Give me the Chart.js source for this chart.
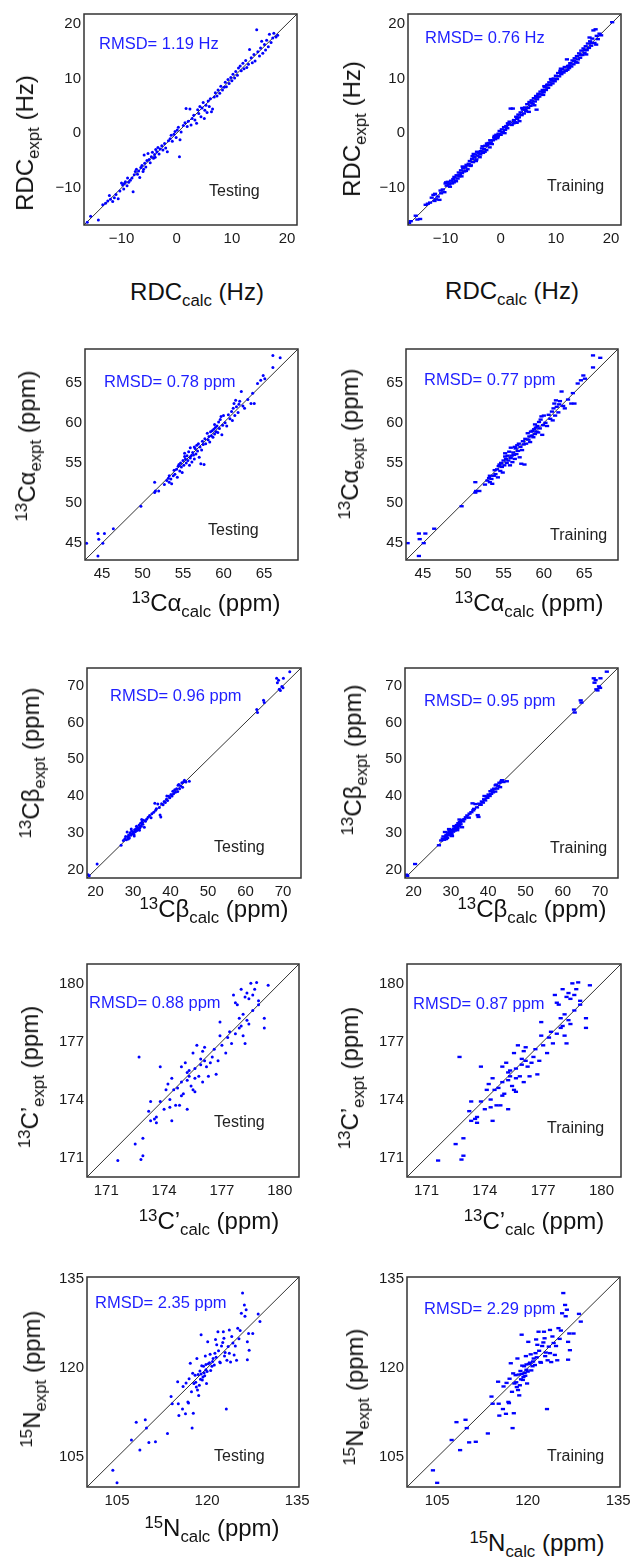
<!DOCTYPE html>
<html lang="en">
<head>
<meta charset="UTF-8">
<title>Calc vs expt scatter panels</title>
<script src="https://cdn.jsdelivr.net/npm/chart.js"></script>
<style>
  body { margin: 0; background: #fff; }
  #page { position: relative; width: 633px; height: 1562px; overflow: hidden; background: #fff;
          font-family: Arial, "Liberation Sans", Helvetica, sans-serif; }
  #page canvas { position: absolute; }
  .ttl { position: absolute; font-size: 24px; line-height: 24px; color: #111; white-space: nowrap; }
  .ttl sub, .ttl sup { font-size: 0.7em; line-height: 0; position: relative; vertical-align: baseline; }
  .ttl sub { top: 0.33em; }
  .ttl sup { top: -0.45em; }
  .rmsd { position: absolute; font-size: 16.5px; line-height: 16px; color: #1f1fff; white-space: nowrap; }
  .tag { position: absolute; font-size: 16px; line-height: 16px; color: #222; white-space: nowrap; }
</style>
</head>
<body>
<div id="page"></div>
<script>
// axis limits (same for x and y) and tick values
const rdcLim = [-16.8, 21.8];
const caLim = [42.9, 69.2];
const cbLim = [17.7, 74.8];
const cpLim = [170.0, 181.0];
const nLim = [100.0, 135.3];

const rdcTicks = [-10, 0, 10, 20];
const caTicks = [45, 50, 55, 60, 65];
const cbTicks = [20, 30, 40, 50, 60, 70];
const cpTicks = [171, 174, 177, 180];
const nTicks = [105, 120, 135];

// [calc, expt] pairs
const rdcTest = [
  [-16.2,-16.3],[-15.6,-15.2],[-14.2,-15.9],[-13.4,-13.1],[-12.9,-12.8],[-12.5,-12.4],[-12.2,-11.4],[-12.0,-12.1],
  [-11.6,-12.5],[-11.3,-11.8],[-11.0,-11.2],[-10.6,-12.0],[-10.3,-10.6],[-10.0,-9.1],[-9.8,-9.5],[-9.5,-9.2],
  [-9.3,-8.9],[-9.0,-9.6],[-8.7,-9.0],[-8.4,-8.6],[-8.1,-8.2],[-7.9,-10.7],[-7.7,-7.6],[-7.5,-7.0],[-7.3,-6.6],
  [-7.1,-7.5],[-6.9,-6.9],[-6.7,-8.1],[-6.5,-6.3],[-6.3,-5.9],[-6.1,-7.0],[-5.9,-4.0],[-5.8,-5.5],[-5.6,-6.2],
  [-5.4,-5.0],[-5.2,-3.7],[-5.0,-4.8],[-4.8,-5.4],[-4.6,-4.3],[-4.4,-3.5],[-4.2,-4.6],[-4.0,-3.9],[-3.8,-3.0],
  [-3.6,-3.4],[-3.4,-2.6],[-3.2,-3.8],[-3.0,-2.9],[-2.7,-2.3],[-2.5,-3.1],[-2.2,-1.9],[-2.0,-2.7],[-1.7,-3.4],
  [-1.5,-1.4],[-1.2,-1.0],[-1.0,-0.4],[-0.8,-1.5],[-0.5,-0.2],[-0.3,0.3],[-0.1,-0.8],[0.1,0.6],[0.3,1.1],
  [0.5,-4.3],[0.6,-1.2],[0.8,0.2],[1.2,1.4],[1.5,1.9],[1.7,4.5],[1.9,1.2],[2.1,2.2],[2.4,4.4],[2.6,1.5],
  [2.8,2.7],[3.1,3.3],[3.3,2.4],[3.6,1.8],[3.8,4.3],[4.0,3.6],[4.2,4.9],[4.4,3.0],[4.6,4.6],[4.8,5.6],[5.0,2.7],
  [5.1,4.2],[5.3,5.1],[5.5,3.8],[5.7,5.9],[5.9,4.9],[6.1,6.3],[6.3,3.9],[6.5,4.4],[6.8,6.6],[7.0,7.4],[7.3,6.8],
  [7.5,7.9],[7.8,7.3],[8.0,8.6],[8.3,7.9],[8.6,8.4],[8.8,9.3],[9.0,8.5],[9.3,9.8],[9.5,9.1],[9.8,10.2],[10.0,9.6],
  [10.2,10.8],[10.5,10.1],[10.7,11.3],[11.0,10.6],[11.2,11.9],[11.5,12.3],[11.7,11.4],[12.0,12.8],[12.2,11.8],
  [12.5,13.3],[12.7,12.0],[13.0,12.6],[13.2,15.3],[13.5,13.8],[13.7,12.9],[14.0,14.4],[14.2,13.2],[14.5,18.9],
  [14.7,14.9],[15.0,14.1],[15.2,15.6],[15.4,16.8],[15.6,14.6],[15.9,16.2],[16.1,15.2],[16.3,17.0],[16.6,15.8],
  [16.8,18.1],[17.1,16.6],[17.4,17.4],[17.6,18.3],[18.0,17.6],[18.3,17.9],[-9.6,-10.2],[-8.9,-8.2],[-6.0,-6.6],
  [-3.9,-4.4]
];

const rdcTrain = [
  [-16.6,-16.4],[-16.3,-16.1],[-15.4,-15.1],[-15.1,-15.8],[-14.6,-15.7],[-13.6,-13.1],[-13.2,-12.9],[-12.8,-12.7],
  [-12.5,-11.8],[-12.2,-11.3],[-12.0,-12.4],[-11.7,-12.1],[-11.4,-11.6],[-11.1,-12.2],[-10.8,-11.0],[-10.5,-10.3],
  [-10.2,-10.8],[-10.0,-9.2],[-9.8,-9.6],[-9.6,-8.9],[-9.4,-9.4],[-9.2,-9.8],[-9.0,-8.7],[-8.8,-9.2],[-8.6,-8.4],
  [-8.4,-8.0],[-8.2,-8.7],[-8.0,-7.7],[-7.8,-8.3],[-7.6,-7.2],[-7.4,-7.6],[-7.2,-6.8],[-7.0,-7.3],[-6.8,-6.4],
  [-6.6,-7.0],[-6.4,-6.2],[-6.2,-5.8],[-6.0,-6.6],[-5.8,-5.6],[-5.6,-5.1],[-5.4,-5.9],[-5.2,-4.7],[-5.0,-5.3],
  [-4.8,-4.4],[-4.6,-3.9],[-4.4,-4.8],[-4.2,-4.1],[-4.0,-3.6],[-3.8,-4.4],[-3.6,-3.3],[-3.4,-2.8],[-3.2,-3.6],
  [-3.0,-2.9],[-2.8,-2.3],[-2.6,-3.1],[-2.4,-2.2],[-2.2,-1.8],[-2.0,-2.6],[-1.8,-1.7],[-1.6,-2.0],[-1.4,-1.3],
  [-1.2,-0.8],[-1.0,-1.1],[-0.8,-0.3],[-0.6,-0.9],[-0.4,-0.1],[-0.2,0.4],[0.0,-0.3],[0.2,0.7],[0.4,0.2],[0.6,1.1],
  [0.8,0.6],[1.0,1.3],[1.2,0.9],[1.4,1.6],[1.6,2.1],[1.8,4.5],[2.0,1.5],[2.2,4.5],[2.4,2.4],[2.6,2.0],[2.8,3.0],
  [3.0,2.6],[3.2,3.4],[3.4,2.2],[3.6,3.8],[3.8,3.3],[4.0,4.3],[4.2,3.6],[4.4,4.7],[4.6,4.0],[4.8,5.3],[5.0,4.6],
  [5.2,5.7],[5.4,5.0],[5.6,6.0],[5.8,5.4],[6.0,6.4],[6.2,5.8],[6.4,6.8],[6.6,6.2],[6.8,7.2],[7.0,6.7],[7.2,7.6],
  [7.4,7.1],[7.6,7.9],[7.8,7.5],[8.0,8.4],[8.2,7.9],[8.4,8.8],[8.6,8.3],[8.8,9.3],[9.0,8.8],[9.2,9.7],[9.4,9.1],
  [9.6,10.0],[9.8,9.5],[10.0,10.5],[10.2,9.9],[10.4,11.0],[10.6,10.4],[10.8,11.4],[11.0,10.8],[11.2,11.7],
  [11.4,11.1],[11.6,12.1],[11.8,11.4],[12.0,13.5],[12.2,12.3],[12.4,11.9],[12.6,12.8],[12.8,12.2],[13.0,13.3],
  [13.2,12.6],[13.4,13.7],[13.6,13.0],[13.8,14.1],[14.0,13.5],[14.2,14.6],[14.4,13.8],[14.6,15.1],[14.8,14.3],
  [15.0,15.5],[15.2,14.7],[15.4,15.9],[15.6,15.2],[15.8,16.4],[16.0,15.6],[16.2,16.8],[16.4,16.0],[16.6,17.3],
  [16.8,18.8],[17.0,16.5],[17.2,19.0],[17.4,17.8],[17.6,17.2],[17.9,18.2],[18.2,17.9],[20.2,20.3],
  [-9.9,-9.0],[-9.3,-9.2],[-8.1,-8.8],[-7.5,-7.9],[-6.9,-6.1],[-5.5,-6.0],[-4.9,-3.8],[-4.3,-3.4],[-3.3,-2.4],
  [-2.5,-1.9],[-1.1,-0.5],[0.3,0.1],[1.3,1.8],[2.9,1.9],[3.9,4.6],[5.1,3.9],[6.1,5.1],[6.5,4.3],[7.9,8.6],
  [9.1,9.9],[10.9,11.8],[12.1,11.6],[13.9,12.9],[15.5,14.4],[16.1,17.5],[17.3,16.2],
  [-11.9,-11.1],[-10.9,-10.5],[-8.5,-9.0],[-7.1,-7.9],[-6.3,-6.9],[-5.1,-4.2],[-4.5,-5.1],[-3.7,-3.9],[-2.9,-3.4],
  [-1.9,-1.3],[-0.5,-0.6],[0.7,0.0],[2.3,1.8],[3.3,2.9],[4.5,4.3],[5.5,5.6],[6.7,6.6],[7.7,7.0],[8.5,8.9],
  [9.5,9.6],[11.1,11.2],[12.5,12.4],[13.3,13.2],[14.5,14.3],[15.3,15.2],[16.5,16.5]
];

const caPts = [
  [43.1,45.0],[44.5,46.2],[44.6,45.5],[44.5,43.4],[45.1,45.0],[45.3,46.2],[46.4,46.8],[49.8,49.6],[51.5,51.3],
  [51.6,51.5],[51.5,52.6],[52.0,51.5],[52.7,52.3],[53.0,52.8],[53.2,53.1],[53.3,52.6],[53.5,53.0],[53.6,52.4],
  [53.8,53.4],[53.9,54.1],[54.0,53.6],[54.2,54.2],[54.3,53.2],[54.4,54.6],[54.5,54.8],[54.6,54.0],[54.7,55.0],
  [54.8,54.5],[54.9,53.8],[55.0,55.3],[55.1,54.7],[55.2,56.2],[55.3,55.5],[55.4,55.0],[55.5,55.9],[55.6,55.3],
  [55.7,56.4],[55.8,54.7],[55.9,55.6],[56.0,55.9],[56.1,55.1],[56.2,56.3],[56.3,56.0],[56.4,55.5],[56.5,56.8],
  [56.6,56.1],[56.7,57.2],[56.8,56.5],[56.9,57.4],[57.0,55.7],[57.1,57.0],[57.2,54.9],[57.3,56.6],[57.4,57.7],
  [57.5,57.3],[57.6,54.8],[57.7,58.0],[57.8,57.4],[58.0,58.7],[58.1,57.9],[58.2,58.3],[58.3,57.6],[58.4,58.9],
  [58.5,58.4],[58.6,59.0],[58.7,58.2],[58.8,59.2],[58.9,58.6],[59.0,59.4],[59.1,58.9],[59.2,59.6],[59.3,58.8],
  [59.4,60.1],[59.5,59.3],[59.6,60.4],[59.7,60.8],[59.8,58.5],[59.9,59.7],[60.2,60.0],[60.4,59.6],[60.6,61.0],
  [60.8,60.5],[61.0,61.4],[61.1,60.3],[61.2,61.8],[61.3,62.4],[61.4,60.9],[61.5,62.8],[61.6,62.0],[61.8,61.3],
  [62.0,62.7],[62.2,63.9],[62.4,62.1],[62.6,61.8],[63.0,62.9],[63.4,62.4],[63.6,63.7],[63.8,62.4],[64.2,64.9],
  [64.6,65.3],[64.9,65.9],[65.1,65.5],[66.1,66.9],[66.1,68.4],[67.0,68.1],[56.4,57.0],[55.9,56.9],[55.2,55.8],
  [58.9,59.8],[60.0,60.9],[61.9,62.3],[53.3,53.4]
];

const cbPts = [
  [18.0,18.6],[18.3,18.3],[20.4,21.5],[26.8,26.6],[27.4,27.9],[27.8,28.4],[28.0,29.0],[28.2,28.1],[28.4,30.2],
  [28.6,28.9],[28.8,29.4],[29.0,28.6],[29.2,30.0],[29.4,29.3],[29.6,30.5],[29.8,29.7],[30.0,30.2],[30.2,29.6],
  [30.4,30.8],[30.6,30.3],[30.8,31.1],[31.0,30.6],[31.2,31.5],[31.4,31.0],[31.6,32.1],[31.8,31.3],[32.0,32.6],
  [32.2,31.8],[32.4,32.9],[32.6,32.3],[32.8,33.4],[33.0,31.5],[33.3,33.1],[33.6,33.7],[34.0,34.2],[34.4,34.7],
  [35.0,35.2],[35.5,35.6],[35.8,38.0],[36.2,36.5],[36.6,37.8],[37.0,36.9],[37.2,34.8],[37.4,34.3],[37.6,37.9],
  [38.0,37.6],[38.3,38.5],[38.6,38.2],[38.9,39.1],[39.2,38.8],[39.5,39.9],[39.8,39.5],[40.1,40.4],[40.4,40.0],
  [40.6,41.3],[40.8,40.6],[41.1,41.7],[41.3,41.0],[41.6,42.0],[41.9,41.2],[42.2,43.1],[42.4,42.0],[42.7,42.7],
  [43.0,43.6],[43.2,42.4],[43.5,43.9],[43.7,44.3],[44.1,43.8],[45.0,44.0],[63.0,63.5],[63.2,62.7],[64.8,66.0],
  [65.0,65.4],[68.3,72.0],[68.5,70.8],[68.8,71.5],[69.0,69.0],[69.3,68.7],[69.7,69.8],[70.0,69.4],[70.1,72.0],
  [71.8,73.8],[29.5,31.0],[30.9,31.8],[32.3,33.6],[28.7,28.3],[31.7,30.7],[34.8,34.1],[36.0,36.1],[39.0,40.0],
  [42.0,42.9],[30.3,29.1]
];

const cpPts = [
  [171.6,170.85],[172.5,171.7],[172.9,172.0],[172.9,171.1],[172.8,170.9],[172.7,176.2],[173.2,173.4],[173.3,172.9],
  [173.6,173.1],[173.6,172.8],[173.8,175.7],[173.3,173.9],[173.8,173.9],[174.1,174.5],[174.3,173.6],[174.4,172.9],
  [174.4,175.1],[174.5,174.5],[174.3,174.0],[174.8,173.7],[174.9,174.2],[174.9,174.9],[174.9,175.7],[175.1,175.9],
  [175.2,175.4],[175.2,173.5],[175.2,175.0],[175.3,175.5],[175.4,174.7],[175.5,176.4],[175.6,175.6],[175.6,174.4],
  [175.7,176.8],[175.8,175.2],[175.9,176.1],[176.0,174.9],[176.0,176.5],[176.1,176.7],[176.2,175.7],[176.3,175.2],
  [176.5,176.2],[176.8,176.0],[176.7,175.3],[176.9,177.3],[177.0,176.8],[177.2,176.4],[177.4,177.5],[176.9,178.0],
  [177.6,179.4],[177.8,178.9],[177.9,177.7],[178.0,179.7],[178.1,177.3],[178.2,176.9],[178.2,179.3],[178.3,178.1],
  [178.4,179.2],[178.5,180.0],[178.6,178.6],[178.7,179.7],[178.8,180.05],[178.9,178.9],[179.2,178.2],[179.2,177.7],
  [179.4,179.9],[174.2,174.8],[174.6,173.7],[175.0,174.3],[175.3,175.2],[175.5,174.5],[175.9,175.8],[176.1,176.0],
  [176.4,175.9],[177.3,177.2],[177.7,177.4],[177.9,178.2],[178.0,177.8],[178.1,178.4],[178.3,179.5],[178.4,177.9],
  [178.6,179.4],[177.7,179.0],[178.9,179.1],[174.7,174.6],[174.0,173.5],[173.5,173.0],[175.6,175.1],[176.6,176.6],
  [177.5,176.9]
];

const nPts = [
  [104.3,102.8],[105.0,100.7],[107.4,107.9],[108.2,110.9],[108.8,106.2],[109.7,111.3],[109.9,109.9],[110.3,107.5],
  [111.4,107.6],[113.4,109.0],[114.0,115.2],[114.2,114.0],[115.1,117.7],[115.2,114.0],[115.3,112.0],[115.9,113.1],
  [116.0,116.9],[116.4,112.3],[116.8,114.3],[116.9,114.1],[117.2,120.8],[117.5,109.9],[117.7,112.4],[117.8,117.4],
  [118.0,118.8],[118.2,116.8],[118.3,121.6],[118.6,115.4],[118.8,119.5],[118.9,118.1],[119.0,125.6],[119.1,120.4],
  [119.3,118.5],[119.5,119.2],[119.7,122.0],[119.8,119.7],[119.9,117.4],[120.1,124.4],[120.4,120.9],[120.8,120.3],
  [121.0,121.6],[121.3,122.5],[121.6,123.9],[121.8,126.1],[122.1,121.0],[122.4,123.7],[122.7,126.1],[122.9,122.0],
  [123.2,113.1],[123.5,123.6],[123.7,122.5],[123.7,126.4],[124.3,124.2],[124.7,123.7],[125.1,126.7],[125.7,129.2],
  [125.9,132.6],[126.2,130.6],[126.3,128.7],[126.5,129.8],[126.7,124.4],[126.9,125.8],[127.0,123.0],[126.7,121.4],
  [127.6,125.8],[128.5,129.1],[128.8,127.8],[117.0,118.2],[117.4,116.0],[118.1,117.6],[118.5,118.9],[118.7,117.1],
  [119.0,119.0],[119.2,118.0],[119.4,120.3],[119.6,118.7],[120.0,119.4],[120.2,120.7],[120.5,122.3],[120.9,121.1],
  [121.2,120.5],[121.5,121.8],[121.9,122.9],[122.2,120.9],[122.6,124.3],[123.0,122.6],[123.3,121.3],[123.9,121.0],
  [124.1,125.3],[124.5,122.2],[125.3,124.9],[125.5,126.3],[119.8,120.6],[118.4,116.3],[117.6,119.1],[116.5,117.5],
  [120.6,119.6],[121.4,124.8],[122.8,125.0],[124.9,121.3]
];

// axis title markup
const rdcX = 'RDC<sub>calc</sub> (Hz)', rdcY = 'RDC<sub>expt</sub> (Hz)';
const caX = '<sup>13</sup>C\u03b1<sub>calc</sub> (ppm)', caY = '<sup>13</sup>C\u03b1<sub>expt</sub> (ppm)';
const cbX = '<sup>13</sup>C\u03b2<sub>calc</sub> (ppm)', cbY = '<sup>13</sup>C\u03b2<sub>expt</sub> (ppm)';
const cpX = '<sup>13</sup>C\u2019<sub>calc</sub> (ppm)', cpY = '<sup>13</sup>C\u2019<sub>expt</sub> (ppm)';
const nX = '<sup>15</sup>N<sub>calc</sub> (ppm)', nY = '<sup>15</sup>N<sub>expt</sub> (ppm)';

// layout: plot box [l,t,r,b], title centres, note positions
const panels = [
  { box: [84, 14, 297, 225], lim: rdcLim, ticks: rdcTicks, pts: rdcTest, train: false, rmsd: 'RMSD= 1.19 Hz',
    rm: [99, 43], tag: [209, 191], xt: [rdcX, 197, 292], yt: [rdcY, 25, 143] },
  { box: [408, 14, 621, 225], lim: rdcLim, ticks: rdcTicks, pts: rdcTrain, train: true, rmsd: 'RMSD= 0.76 Hz',
    rm: [425, 37], tag: [547, 186], xt: [rdcX, 512, 291], yt: [rdcY, 352, 129] },
  { box: [85, 349, 298, 560], lim: caLim, ticks: caTicks, pts: caPts, train: false, rmsd: 'RMSD= 0.78 ppm',
    rm: [104, 381], tag: [208, 530], xt: [caX, 206, 603], yt: [caY, 27, 446] },
  { box: [406, 349, 618, 560], lim: caLim, ticks: caTicks, pts: caPts, train: true, rmsd: 'RMSD= 0.77 ppm',
    rm: [424, 379], tag: [550, 535], xt: [caX, 529, 603], yt: [caY, 350, 444] },
  { box: [87, 668, 301, 878], lim: cbLim, ticks: cbTicks, pts: cbPts, train: false, rmsd: 'RMSD= 0.96 ppm',
    rm: [110, 695], tag: [214, 847], xt: [cbX, 214, 909], yt: [cbY, 31, 763] },
  { box: [405, 668, 618, 878], lim: cbLim, ticks: cbTicks, pts: cbPts, train: true, rmsd: 'RMSD= 0.95 ppm',
    rm: [424, 700], tag: [550, 848], xt: [cbX, 532, 909], yt: [cbY, 353, 760] },
  { box: [87, 964, 299, 1177], lim: cpLim, ticks: cpTicks, pts: cpPts, train: false, rmsd: 'RMSD= 0.88 ppm',
    rm: [89, 1002], tag: [214, 1122], xt: [cpX, 209, 1221], yt: [cpY, 30, 1077] },
  { box: [407, 964, 621, 1177], lim: cpLim, ticks: cpTicks, pts: cpPts, train: true, rmsd: 'RMSD= 0.87 ppm',
    rm: [413, 1003], tag: [547, 1128], xt: [cpX, 534, 1221], yt: [cpY, 350, 1078] },
  { box: [87, 1277, 299, 1487], lim: nLim, ticks: nTicks, pts: nPts, train: false, rmsd: 'RMSD= 2.35 ppm',
    rm: [95, 1302], tag: [214, 1456], xt: [nX, 212, 1528], yt: [nY, 32, 1379] },
  { box: [407, 1277, 620, 1487], lim: nLim, ticks: nTicks, pts: nPts, train: true, rmsd: 'RMSD= 2.29 ppm',
    rm: [424, 1308], tag: [547, 1456], xt: [nX, 537, 1543], yt: [nY, 355, 1397] }
];

const page = document.getElementById('page');
const FONT = 'Arial, "Liberation Sans", Helvetica, sans-serif';

const framePlugin = {
  id: 'frame',
  afterDraw(chart) {
    const a = chart.chartArea, ctx = chart.ctx;
    ctx.save();
    ctx.strokeStyle = '#333';
    ctx.lineWidth = 1.5;
    ctx.strokeRect(a.left, a.top, a.right - a.left, a.bottom - a.top);
    ctx.restore();
  }
};

function addText(cls, html, x, y) {
  const d = document.createElement('div');
  d.className = cls;
  d.innerHTML = html;
  d.style.left = x + 'px';
  d.style.top = y + 'px';
  page.appendChild(d);
  return d;
}

function fmt(v) {
  return v < 0 ? '\u2212' + Math.abs(v) : String(v);
}

function makePanel(p) {
  const [l, t, r, b] = p.box;
  const padL = 60, padT = 12, padR = 24, padB = 34;
  const cv = document.createElement('canvas');
  cv.width = r - l + padL + padR;
  cv.height = b - t + padT + padB;
  cv.style.left = (l - padL) + 'px';
  cv.style.top = (t - padT) + 'px';
  page.appendChild(cv);

  const axis = (fit) => ({
    type: 'linear',
    min: p.lim[0],
    max: p.lim[1],
    grid: { display: false, drawTicks: false },
    border: { display: false },
    afterBuildTicks: (s) => { s.ticks = p.ticks.map(v => ({ value: v })); },
    afterFit: fit,
    ticks: { font: { family: FONT, size: 15 }, color: '#1a1a1a', callback: fmt }
  });
  const xAxis = axis((s) => { s.height = padB; });
  xAxis.ticks.padding = 5;
  xAxis.ticks.maxRotation = 0;
  const yAxis = axis((s) => { s.width = padL; });
  yAxis.ticks.padding = 3;

  const pointStyle = p.train
    ? { pointStyle: 'line', pointRadius: 2.1, borderWidth: 2.4, borderColor: '#0000ff' }
    : { pointStyle: 'circle', pointRadius: 1.5, borderWidth: 0, backgroundColor: '#0000ff' };

  new Chart(cv, {
    type: 'scatter',
    data: {
      datasets: [
        Object.assign({ data: p.pts.map(([x, y]) => ({ x, y })) }, pointStyle),
        { data: [{ x: p.lim[0], y: p.lim[0] }, { x: p.lim[1], y: p.lim[1] }],
          showLine: true, borderColor: '#333', borderWidth: 1, pointRadius: 0 }
      ]
    },
    options: {
      responsive: false,
      animation: false,
      events: [],
      layout: { padding: { left: 0, top: padT, right: padR, bottom: 0 } },
      plugins: { legend: { display: false }, tooltip: { enabled: false } },
      scales: { x: xAxis, y: yAxis }
    },
    plugins: [framePlugin]
  });

  addText('rmsd', p.rmsd, p.rm[0], p.rm[1] - 8);
  addText('tag', p.train ? 'Training' : 'Testing', p.tag[0], p.tag[1] - 8);

  const xt = addText('ttl', p.xt[0], p.xt[1], p.xt[2]);
  xt.style.transform = 'translate(-50%, -50%)';
  const yt = addText('ttl', p.yt[0], p.yt[1], p.yt[2]);
  yt.style.transform = 'translate(-50%, -50%) rotate(-90deg)';
}

panels.forEach(makePanel);
</script>
</body>
</html>
